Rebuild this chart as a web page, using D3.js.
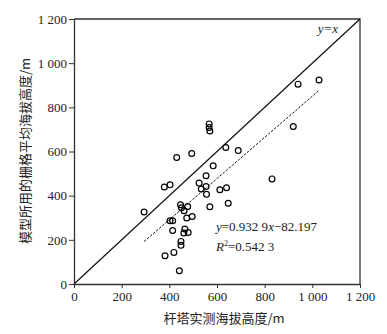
<!DOCTYPE html>
<html>
<head>
<meta charset="utf-8">
<script src="https://cdn.jsdelivr.net/npm/d3@7"></script>
<style>
    body { margin: 0; background: #fff; }
    svg { display: block; }
    .tick-label { font-family: "Liberation Serif", "DejaVu Serif", serif; font-size: 13px; fill: #222; }
    .axis-title { font-family: "Noto Sans CJK SC", sans-serif; font-size: 13px; fill: #222; }
    .note { font-family: "Liberation Serif", "DejaVu Serif", serif; font-size: 13px; fill: #222; }
</style>
</head>
<body>
<div class="charts-div"></div>
<script>
// measured tower altitude (x) vs model grid mean altitude (y), metres
const towerHeights = [294, 379, 403, 382, 419, 442, 431, 494, 567, 567, 570, 637, 689, 584,
    554, 525, 554, 534, 556, 612, 640, 647, 570, 831, 940, 1028, 920, 447, 451, 477, 462,
    496, 473, 403, 414, 414, 465, 479, 461, 449, 449];
const modelHeights = [326, 439, 449, 128, 143, 60, 573, 591, 725, 709, 693, 618, 604, 535,
    490, 457, 441, 430, 406, 427, 436, 366, 350, 476, 905, 924, 713, 359, 345, 351, 332,
    306, 299, 286, 286, 242, 249, 233, 231, 193, 175];
const xTicks = [0, 200, 400, 600, 800, 1000, 1200];
const yTicks = [0, 200, 400, 600, 800, 1000, 1200];
const fitSlope = 0.9329;
const fitIntercept = -82.197;

const chartsConfig = { width: 387, height: 334, margins: { top: 19, right: 27, bottom: 50, left: 74 } };

const formatTick = (d) => d3.format(",")(d).replace(",", " ");

const drawChart = () => {
    const { width, height, margins } = chartsConfig;
    const svg = d3.select(".charts-div").append("svg").attr("width", width).attr("height", height);

    const xScale = d3.scaleLinear().domain([0, 1200]).range([margins.left, width - margins.right]);
    const yScale = d3.scaleLinear().domain([0, 1200]).range([height - margins.bottom, margins.top]);

    // frame (top and right sides, no ticks)
    svg.append("path")
        .attr("d", `M${xScale(0)},${yScale(1200)}H${xScale(1200)}V${yScale(0)}`)
        .attr("fill", "none").attr("stroke", "#333").attr("stroke-width", 1.3);

    // bottom axis
    const xAxis = svg.append("g")
        .attr("transform", `translate(0,${yScale(0)})`)
        .call(d3.axisBottom(xScale).tickValues(xTicks).tickSize(4).tickSizeOuter(0).tickFormat(formatTick));

    // left axis
    const yAxis = svg.append("g")
        .attr("transform", `translate(${xScale(0)},0)`)
        .call(d3.axisLeft(yScale).tickValues(yTicks).tickSize(5).tickSizeOuter(0).tickFormat(formatTick));

    [xAxis, yAxis].forEach((axis) => {
        axis.select(".domain").attr("stroke", "#333").attr("stroke-width", 1.3);
        axis.selectAll(".tick line").attr("stroke", "#333").attr("stroke-width", 1);
        axis.selectAll(".tick text").attr("class", "tick-label").attr("font-size", null).attr("font-family", null);
    });
    xAxis.attr("font-size", null).attr("font-family", null);
    yAxis.attr("font-size", null).attr("font-family", null);
    xAxis.selectAll(".tick text").attr("dy", "0.9em").attr("y", 5);
    yAxis.selectAll(".tick text").attr("x", -7);

    // y = x reference line
    svg.append("line")
        .attr("x1", xScale(0)).attr("y1", yScale(0))
        .attr("x2", xScale(1200)).attr("y2", yScale(1200))
        .attr("stroke", "#111").attr("stroke-width", 1.2);

    svg.append("text").attr("class", "note")
        .attr("x", xScale(1200) - 22).attr("y", yScale(1200) + 14)
        .attr("text-anchor", "end").attr("font-style", "italic")
        .text("y=x");

    // regression line over the data range
    const [minX, maxX] = d3.extent(towerHeights);
    svg.append("line")
        .attr("x1", xScale(minX)).attr("y1", yScale(fitSlope * minX + fitIntercept))
        .attr("x2", xScale(maxX)).attr("y2", yScale(fitSlope * maxX + fitIntercept))
        .attr("stroke", "#111").attr("stroke-width", 1).attr("stroke-dasharray", "2.5,1.5");

    // points
    svg.append("g")
        .selectAll("circle")
        .data(towerHeights.map((x, i) => [x, modelHeights[i]]))
        .join("circle")
        .attr("class", "visualPlotting")
        .attr("cx", (d) => xScale(d[0]))
        .attr("cy", (d) => yScale(d[1]))
        .attr("r", 2.9)
        .attr("fill", "none")
        .attr("stroke", "#000")
        .attr("stroke-width", 1.2);

    // equation text
    const eq = svg.append("text").attr("class", "note").attr("x", 216).attr("y", 231);
    eq.append("tspan").attr("font-style", "italic").text("y");
    eq.append("tspan").text("=0.932 9");
    eq.append("tspan").attr("font-style", "italic").text("x");
    eq.append("tspan").text("\u221282.197");

    const r2 = svg.append("text").attr("class", "note").attr("x", 216).attr("y", 251);
    r2.append("tspan").attr("font-style", "italic").text("R");
    r2.append("tspan").attr("font-size", "8px").attr("dy", -5).text("2");
    r2.append("tspan").attr("dy", 5).text("=0.542 3");

    // axis titles
    svg.append("text").attr("class", "axis-title")
        .attr("x", 224).attr("y", 323)
        .attr("text-anchor", "middle")
        .text("杆塔实测海拔高度/m");

    svg.append("text").attr("class", "axis-title")
        .attr("transform", `translate(30,151) rotate(-90)`)
        .attr("text-anchor", "middle")
        .text("模型所用的栅格平均海拔高度/m");
};

drawChart();
</script>
</body>
</html>
